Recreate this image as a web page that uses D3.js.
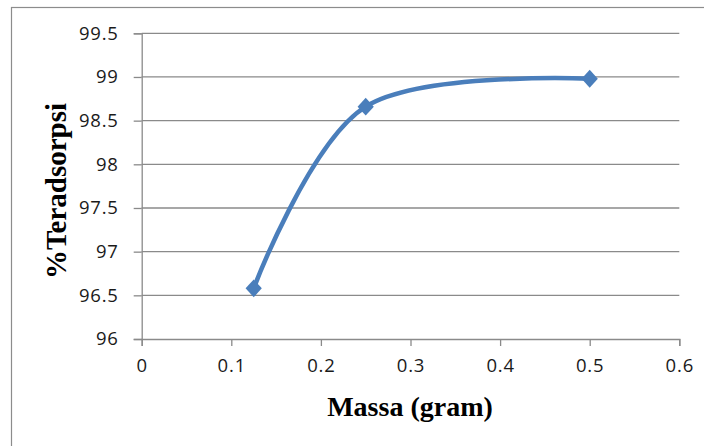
<!DOCTYPE html>
<html>
<head>
<meta charset="utf-8">
<script src="https://cdn.jsdelivr.net/npm/d3@7"></script>
<style>
  html, body { margin: 0; padding: 0; background: #fff; }
  svg { display: block; }
</style>
</head>
<body>
<svg id="chart" width="704" height="446"></svg>
<script>
const massa = [0.125, 0.25, 0.5];
const teradsorpsi = [96.58, 98.66, 98.98];
const xTicks = [0, 0.1, 0.2, 0.3, 0.4, 0.5, 0.6];
const yTicks = [96, 96.5, 97, 97.5, 98, 98.5, 99, 99.5];
const xTitle = "Massa (gram)";
const yTitle = "%Teradsorpsi";

const svg = d3.select("#chart");
const x = d3.scaleLinear().domain([0, 0.6]).range([141.7, 679.3]);
const y = d3.scaleLinear().domain([96, 99.5]).range([339, 33.3]);
const gridColor = "#8a8a8a";
const tickFont = "'Open Sans', 'Liberation Sans', sans-serif";

// outer chart border
svg.append("rect").attr("x", 11.5).attr("y", 7.5).attr("width", 720).attr("height", 460)
  .attr("fill", "none").attr("stroke", "#8c8c8c").attr("stroke-width", 1.2);

// horizontal gridlines
svg.append("g").selectAll("line").data(yTicks.slice(1)).join("line")
  .attr("x1", x(0)).attr("x2", x(0.6))
  .attr("y1", d => y(d)).attr("y2", d => y(d))
  .attr("stroke", gridColor).attr("stroke-width", 1.3);

// y axis
const yAxis = svg.append("g").attr("transform", `translate(${x(0)},0)`)
  .call(d3.axisLeft(y).tickValues(yTicks).tickSize(8).tickPadding(15).tickFormat(d3.format("")));
yAxis.select(".domain").attr("stroke", gridColor).attr("stroke-width", 1.3);
yAxis.selectAll(".tick line").attr("stroke", gridColor).attr("stroke-width", 1.3);
yAxis.selectAll(".tick text").attr("fill", "#1a1a1a").style("font-family", tickFont)
  .style("font-size", "18.5px").style("letter-spacing", "0.8px");

// x axis
const xAxis = svg.append("g").attr("transform", `translate(0,${y(96)})`)
  .call(d3.axisBottom(x).tickValues(xTicks).tickSize(7).tickPadding(13).tickFormat(d3.format("")));
xAxis.select(".domain").attr("stroke", gridColor).attr("stroke-width", 1.3);
xAxis.selectAll(".tick line").attr("stroke", gridColor).attr("stroke-width", 1.3);
xAxis.selectAll(".tick text").attr("fill", "#1a1a1a").style("font-family", tickFont)
  .style("font-size", "18.5px").style("letter-spacing", "0.8px");

// line
const pts = massa.map((m, i) => [m, teradsorpsi[i]]);
const line = d3.line().x(d => x(d[0])).y(d => y(d[1])).curve(d3.curveCardinal.tension(0));
svg.append("path").datum(pts).attr("d", line)
  .attr("fill", "none").attr("stroke", "#4a7ebb").attr("stroke-width", 4.5)
  .attr("stroke-linejoin", "round").attr("stroke-linecap", "round");

// markers
const sym = d3.symbol().type(d3.symbolSquare).size(132);
svg.append("g").selectAll("path").data(pts).join("path")
  .attr("d", sym)
  .attr("transform", d => `translate(${x(d[0])},${y(d[1])}) scale(1,1.1) rotate(45)`)
  .attr("fill", "#4a7ebb");

// titles
svg.append("text").attr("x", 410).attr("y", 416).attr("text-anchor", "middle")
  .style("font-family", "'Liberation Serif', 'Times New Roman', serif")
  .style("font-weight", "bold").style("font-size", "28px")
  .text(xTitle);

svg.append("text").attr("transform", "translate(66,191) rotate(-90)").attr("text-anchor", "middle")
  .style("font-family", "'Liberation Serif', 'Times New Roman', serif")
  .style("font-weight", "bold").style("font-size", "29px")
  .text(yTitle);
</script>
</body>
</html>
